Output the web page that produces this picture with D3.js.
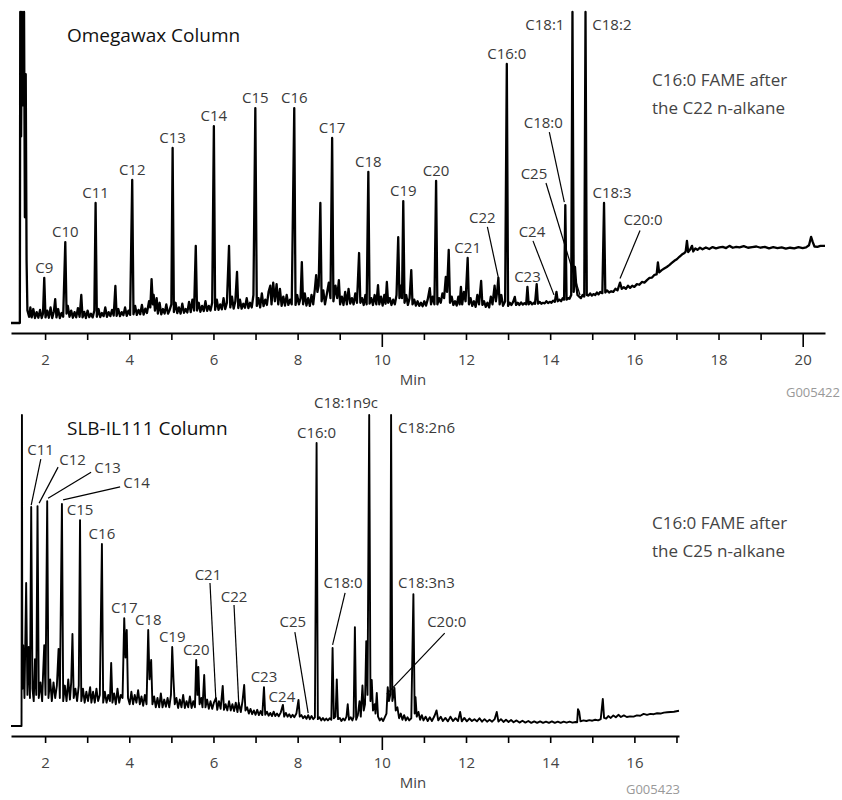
<!DOCTYPE html>
<meta charset="utf-8">
<head>
  <script src="https://d3js.org/d3.v7.min.js"></script>
  <style>
    body { margin: 0; background: #fff; font-family: 'Open Sans', sans-serif; }
  </style>
</head>
<div id="my_dataviz"></div>

<script>
  // ---- data: retention time (min), detector signal (% of full scale) ----
  var omegawaxTrace = [
    [1.19,0],[1.39,0],[1.40,0],[1.41,100],[1.43,60],[1.45,100],[1.48,70],[1.50,100],[1.52,34],[1.54,80],[1.56,20],[1.58,4],
    [1.62,2],[1.65,5],[1.68,1.8],[1.72,4.5],[1.76,1.6],[1.80,3.5],[1.84,1.7],[1.88,4.2],[1.92,1.6],[1.95,3],[1.98,14.5],[2.01,1.8],
    [2.05,4],[2.09,1.7],[2.13,5],[2.17,1.6],[2.21,3.8],[2.24,7.7],[2.27,1.8],[2.31,4.5],[2.35,1.6],[2.39,3.2],[2.43,2],[2.48,26],
    [2.51,3],[2.54,5.5],[2.58,2],[2.62,4],[2.66,1.7],[2.70,3.5],[2.74,1.8],[2.78,4.8],[2.82,2],[2.86,9],[2.89,1.8],[2.93,3.6],
    [2.97,1.6],[3.01,4],[3.05,1.9],[3.09,3],[3.13,1.8],[3.17,4],[3.20,38.6],[3.23,2],[3.27,4.5],[3.31,1.9],[3.35,3.2],[3.39,2.2],
    [3.43,5],[3.47,2],[3.51,3.5],[3.55,2.2],[3.59,4.2],[3.63,2.4],[3.67,11.9],[3.70,2.3],[3.74,4.5],[3.78,2.2],[3.82,3.5],[3.86,2.5],
    [3.90,5],[3.94,2.3],[3.98,4],[4.02,2.6],[4.07,46],[4.10,2.8],[4.14,5.5],[4.18,2.6],[4.22,4.2],[4.26,2.8],[4.30,5.8],[4.34,2.7],
    [4.38,4.6],[4.42,3.2],[4.47,7],[4.50,5],[4.53,14.1],[4.56,6],[4.58,9],[4.61,4],[4.65,8],[4.68,3],[4.72,6.5],[4.76,2.8],
    [4.80,4.5],[4.84,3],[4.88,6],[4.92,3],[4.96,4.2],[5.00,6],[5.03,56.3],[5.06,3.5],[5.10,6.5],[5.14,3.2],[5.18,5],[5.22,3],
    [5.26,6.2],[5.30,3.3],[5.34,4.5],[5.38,3.4],[5.42,6.8],[5.46,3.5],[5.50,7.5],[5.54,4],[5.58,24.8],[5.61,4],[5.65,6.5],[5.69,3.6],
    [5.73,5.5],[5.77,3.8],[5.81,7],[5.85,3.9],[5.89,5.5],[5.93,4],[5.97,6.5],[6.01,63.3],[6.04,4.2],[6.08,7.5],[6.12,4.2],[6.16,6],
    [6.20,4.4],[6.24,8],[6.28,4.5],[6.32,6.5],[6.37,24.8],[6.40,5],[6.44,8.5],[6.48,4.6],[6.52,7],[6.56,16.4],[6.59,4.8],[6.63,7.5],
    [6.67,4.6],[6.71,6.2],[6.75,4.9],[6.79,8],[6.83,4.8],[6.87,6.5],[6.91,5],[6.95,9],[6.995,69.1],[7.03,5.5],[7.07,8],[7.11,5],
    [7.15,9.5],[7.19,5.4],[7.23,7.5],[7.27,5.8],[7.31,10],[7.35,12],[7.38,6],[7.42,13],[7.46,7],[7.50,12.5],[7.54,6],[7.58,11],
    [7.62,5.5],[7.66,8.5],[7.70,5.6],[7.74,9],[7.78,5.8],[7.82,7.5],[7.86,6],[7.92,69.1],[7.95,5.8],[7.99,9],[8.03,6],[8.07,8],
    [8.10,19.6],[8.13,6],[8.17,9.5],[8.21,5.6],[8.25,8],[8.29,5.5],[8.33,9],[8.37,6],[8.41,11],[8.44,15.4],[8.47,10],[8.50,12],
    [8.54,38.6],[8.57,7],[8.61,10.5],[8.65,6],[8.69,9],[8.74,13],[8.78,8],[8.82,59.5],[8.85,7],[8.90,12],[8.94,8],[8.98,13.8],
    [9.01,6],[9.05,8.5],[9.09,5.8],[9.13,10],[9.17,6],[9.21,11],[9.25,6.2],[9.29,8],[9.33,6],[9.37,9.5],[9.41,6.5],[9.46,22.5],
    [9.49,6.5],[9.53,8],[9.57,5.8],[9.61,9],[9.64,6],[9.68,48.6],[9.71,6.2],[9.75,8],[9.79,5.8],[9.83,9],[9.87,6],[9.91,12.2],
    [9.94,6],[9.98,8.5],[10.02,5.6],[10.06,9],[10.09,6.2],[10.12,13.2],[10.15,6.5],[10.19,8],[10.23,5.8],[10.27,7.5],[10.31,6],[10.35,9],
    [10.39,27.6],[10.42,8],[10.45,12],[10.48,8],[10.51,39.2],[10.54,6.5],[10.58,9],[10.62,5.8],[10.66,8],[10.70,17],[10.73,6],[10.77,7.5],
    [10.81,5.6],[10.85,7],[10.89,5.5],[10.93,6.5],[10.97,5.4],[11.01,7],[11.05,5.6],[11.09,7.5],[11.14,11.2],[11.17,6],[11.21,8.5],[11.25,6],
    [11.29,45.7],[11.32,6],[11.36,8],[11.40,6.5],[11.44,9.5],[11.48,8],[11.52,14.8],[11.55,10],[11.59,23.5],[11.62,6.5],[11.66,8.5],[11.70,5.8],
    [11.74,7],[11.78,5.6],[11.82,8.5],[11.85,6],[11.88,11.6],[11.91,6],[11.95,10],[11.99,7],[12.04,20.9],[12.07,6],[12.11,8],[12.15,5.5],
    [12.19,7],[12.23,5.2],[12.27,9],[12.31,6],[12.36,13.5],[12.39,5.8],[12.43,7],[12.47,5.2],[12.51,6.5],[12.55,5],[12.59,8.5],[12.63,6],
    [12.68,12],[12.71,7],[12.74,10],[12.77,14.5],[12.80,6],[12.84,9],[12.88,5.5],[12.93,7],[12.97,83.3],[13.00,5.5],[13.04,6.5],[13.08,5.8],
    [13.12,6.8],[13.16,8.4],[13.19,5.8],[13.23,6.5],[13.27,5.8],[13.31,6.6],[13.35,5.9],[13.39,6.4],[13.43,6],[13.46,11.6],[13.49,6],[13.53,6.8],
    [13.57,6],[13.61,6.5],[13.64,6.2],[13.68,12.5],[13.71,6.2],[13.75,6.8],[13.79,6.2],[13.83,6.5],[13.87,6.3],[13.91,7],[13.95,6.4],[13.99,6.8],
    [14.03,6.5],[14.07,7.2],[14.11,6.8],[14.15,10],[14.18,7],[14.22,7.5],[14.26,7],[14.30,8],[14.33,7.5],[14.36,37.9],[14.39,7.5],[14.43,8],
    [14.46,7.8],[14.50,9],[14.53,100],[14.56,10],[14.59,18],[14.62,12],[14.65,9],[14.69,8.5],[14.73,8],[14.77,9],[14.81,8.5],[14.84,100],
    [14.87,9],[14.91,8.8],[14.95,9.5],[14.99,8.8],[15.03,9.3],[15.07,9],[15.11,9.8],[15.15,9.2],[15.19,10],[15.24,9.6],[15.28,38.6],[15.31,9.8],
    [15.35,10.5],[15.40,9.8],[15.45,10.2],[15.50,10],[15.55,11],[15.60,10.5],[15.66,13],[15.70,11],[15.75,11.5],[15.80,11],[15.85,12],[15.90,11.3],
    [15.95,12],[16.00,11.6],[16.06,12.5],[16.12,12.3],[16.18,13.2],[16.24,13],[16.30,13.8],[16.36,14.5],[16.42,14.6],[16.48,15.5],[16.53,15.6],[16.56,19.5],
    [16.59,16.3],[16.65,17],[16.71,17.5],[16.77,18],[16.83,18.6],[16.89,19.3],[16.95,20],[17.01,20.5],[17.07,21.3],[17.13,22],[17.19,22.5],[17.22,23],
    [17.25,26.4],[17.28,22.8],[17.32,23.5],[17.37,24.8],[17.40,23],[17.45,24],[17.50,23.5],[17.56,24.2],[17.62,23.7],[17.70,24.3],[17.78,23.8],[17.86,24.4],
    [17.94,24],[18.02,24.3],[18.10,24.5],[18.18,24.1],[18.26,24.8],[18.34,24.2],[18.42,24.5],[18.50,24.3],[18.60,24.7],[18.70,24.2],[18.80,24.4],[18.90,24.6],
    [19.00,24.2],[19.10,24.5],[19.20,24],[19.30,24.4],[19.40,24.1],[19.50,24.3],[19.60,23.9],[19.70,24.2],[19.80,24],[19.90,24.4],[20.00,24.1],[20.08,24.3],
    [20.15,25],[20.20,27.7],[20.24,26],[20.28,24.6],[20.35,24.5],[20.42,24.8],[20.53,24.8]
  ];

  var ilTrace = [
    [1.19,0],[1.44,0],[1.45,100],[1.46,12],[1.48,26],[1.51,9],[1.55,46],[1.58,10],[1.61,25.4],[1.64,9],[1.67,70.4],[1.70,12],
    [1.73,8],[1.76,21.5],[1.79,10],[1.82,70.7],[1.85,9],[1.89,14],[1.93,8],[1.95,16],[1.98,26],[2.01,10],[2.05,72.3],[2.08,9],
    [2.12,15],[2.16,8],[2.20,14],[2.24,9],[2.28,13],[2.32,24.8],[2.35,9],[2.40,71.4],[2.43,8],[2.47,13],[2.51,8],[2.55,15],
    [2.59,8.5],[2.62,14],[2.65,29.6],[2.68,9],[2.72,12],[2.76,8],[2.80,13],[2.83,66.2],[2.86,8],[2.90,12],[2.94,7.5],[2.98,11],
    [3.02,8],[3.07,12.5],[3.10,7.5],[3.14,11],[3.18,7.5],[3.22,12],[3.26,8],[3.30,10],[3.35,58.5],[3.38,7.5],[3.42,11],[3.46,7.5],
    [3.50,10],[3.54,8],[3.57,20.3],[3.60,7.5],[3.64,10.5],[3.68,7],[3.72,12],[3.76,7.5],[3.80,10],[3.84,9],[3.88,34.7],[3.91,22],
    [3.94,30.9],[3.97,9],[4.01,7],[4.05,11],[4.09,7],[4.13,10],[4.17,7.5],[4.21,11.5],[4.25,7],[4.29,9.5],[4.33,6.5],[4.37,10],
    [4.41,7],[4.45,30.9],[4.48,15],[4.52,21.2],[4.55,7],[4.59,9.5],[4.63,6],[4.67,9],[4.71,6],[4.75,10.5],[4.79,6],[4.83,8.5],
    [4.87,6.2],[4.91,9],[4.95,6],[4.99,10],[5.02,25.4],[5.05,15],[5.08,7],[5.12,9],[5.16,5.8],[5.20,8.5],[5.24,6],[5.28,10],
    [5.32,5.8],[5.36,8],[5.40,6],[5.44,9.5],[5.48,5.8],[5.52,8],[5.56,6],[5.59,21.2],[5.62,10],[5.64,19],[5.67,7],[5.71,9],
    [5.74,6],[5.78,16.4],[5.81,6],[5.85,8.5],[5.89,5.5],[5.93,8],[5.97,5.5],[6.01,7.5],[6.06,9],[6.09,5.2],[6.13,8],[6.17,5.5],
    [6.22,12.9],[6.25,5.2],[6.29,7],[6.33,5],[6.37,8],[6.41,5],[6.45,7],[6.49,4.8],[6.53,7.5],[6.57,4.5],[6.60,7.5],[6.65,4.5],
    [6.69,8],[6.73,13.2],[6.76,5],[6.80,6],[6.84,4],[6.88,5.5],[6.92,3.8],[6.96,5],[7.00,3.6],[7.04,5.2],[7.08,3.5],[7.12,4.8],
    [7.16,3.5],[7.20,12.5],[7.23,3.6],[7.27,4.6],[7.31,3.3],[7.35,4.2],[7.39,3.2],[7.43,4.6],[7.47,3.2],[7.51,4],[7.55,3.1],[7.60,4.4],
    [7.65,6.8],[7.68,3],[7.72,4.2],[7.76,3],[7.80,3.8],[7.84,2.8],[7.88,3.6],[7.92,2.8],[7.97,4],[8.02,8.4],[8.05,3],[8.09,3.5],
    [8.13,2.5],[8.17,3.2],[8.21,2.3],[8.25,3.5],[8.29,2.2],[8.33,3.2],[8.37,2.2],[8.41,2.8],[8.45,91],[8.48,2.2],[8.52,2.8],[8.56,1.8],
    [8.60,2.6],[8.64,1.8],[8.68,2.4],[8.72,1.8],[8.76,2.5],[8.80,2],[8.83,25.1],[8.86,2.5],[8.90,3],[8.93,15],[8.96,2.2],[9.00,2.6],
    [9.04,1.6],[9.08,2.4],[9.12,1.8],[9.16,3],[9.19,7],[9.22,2],[9.26,2.8],[9.30,1.8],[9.33,3],[9.36,31.8],[9.39,2],[9.43,3.5],
    [9.47,8],[9.50,3],[9.54,13],[9.57,5],[9.60,7],[9.63,27.3],[9.66,10],[9.70,100],[9.73,8],[9.76,14.8],[9.79,5],[9.83,7],
    [9.85,4],[9.88,10.6],[9.91,3],[9.95,1.8],[9.99,2.5],[10.03,1.6],[10.07,2.8],[10.11,4],[10.14,12.5],[10.17,8],[10.20,10],[10.22,100],
    [10.25,8],[10.28,10],[10.30,12.2],[10.33,5],[10.37,6],[10.41,2.5],[10.45,4],[10.49,2],[10.53,3.5],[10.57,1.8],[10.61,2.8],[10.65,1.8],
    [10.70,2.5],[10.75,42.4],[10.78,4],[10.80,9.3],[10.83,3],[10.87,4.5],[10.91,2],[10.95,3.5],[10.99,1.8],[11.04,3],[11.09,1.6],[11.14,2.8],
    [11.19,1.6],[11.25,3.2],[11.30,5],[11.34,1.8],[11.40,3],[11.45,1.6],[11.51,2.6],[11.57,1.5],[11.63,3],[11.69,1.6],[11.75,2.5],[11.81,1.6],
    [11.86,4.5],[11.90,1.5],[11.96,2.6],[12.02,1.5],[12.08,2.4],[12.14,1.6],[12.20,2.2],[12.26,1.5],[12.32,2.5],[12.38,1.4],[12.44,2.2],[12.50,1.4],
    [12.56,2],[12.62,1.4],[12.68,2.2],[12.73,4.5],[12.77,1.4],[12.83,2.2],[12.89,1.3],[12.95,2],[13.01,1.3],[13.07,1.9],[13.13,1.2],[13.20,1.8],
    [13.27,1.1],[13.34,1.7],[13.41,1.1],[13.48,1.6],[13.55,1],[13.62,1.5],[13.69,1],[13.76,1.5],[13.83,1],[13.90,1.4],[13.97,1],[14.04,1.5],
    [14.11,1],[14.18,1.4],[14.25,1],[14.32,1.4],[14.39,1.1],[14.46,1.4],[14.53,1.1],[14.60,1.3],[14.64,1.2],[14.66,5.4],[14.69,4.5],[14.72,1.5],
    [14.79,1.8],[14.86,1.6],[14.93,1.9],[15.00,1.7],[15.07,2],[15.14,1.8],[15.20,2.2],[15.25,8.7],[15.28,2.6],[15.33,2.4],[15.38,3.2],[15.44,2.6],
    [15.50,3.4],[15.56,2.8],[15.62,3.6],[15.68,2.9],[15.75,3.4],[15.82,2.9],[15.90,3.1],[15.98,3],[16.06,3.4],[16.14,3.3],[16.22,3.9],[16.30,3.6],
    [16.38,3.9],[16.46,3.8],[16.54,4.1],[16.62,4],[16.70,4.3],[16.78,4.4],[16.86,4.5],[16.94,4.6],[17.06,4.9]
  ];

  // peak name, retention time, apex height
  var omegawaxPeaks = [
    ["C9",1.98,14.5],["C10",2.48,26],["C11",3.20,38.6],["C12",4.07,46],["C13",5.03,56.3],["C14",6.01,63.3],
    ["C15",6.995,69.1],["C16",7.92,69.1],["C17",8.82,59.5],["C18",9.68,48.6],["C19",10.51,39.2],["C20",11.29,45.7],
    ["C21",12.04,20.9],["C22",12.77,14.5],["C16:0",12.97,83.3],["C23",13.46,11.6],["C24",14.15,10],["C18:0",14.36,37.9],
    ["C25",14.59,18],["C18:1",14.53,100],["C18:2",14.84,100],["C18:3",15.28,38.6],["C20:0",15.66,13]
  ];
  var ilPeaks = [
    ["C11",1.67,70.4],["C12",1.82,70.7],["C13",2.05,72.3],["C14",2.40,71.4],["C15",2.83,66.2],["C16",3.35,58.5],
    ["C17",3.88,34.7],["C18",4.45,30.9],["C19",5.02,25.4],["C20",5.59,21.2],["C21",6.06,9],["C22",6.60,7.5],
    ["C23",7.20,12.5],["C24",7.65,6.8],["C25",8.25,3.5],["C16:0",8.45,91],["C18:0",8.83,25.1],["C18:1n9c",9.70,100],
    ["C18:2n6",10.22,100],["C18:3n3",10.75,42.4],["C20:0",10.14,12.5]
  ];

  var omegawaxTicks = d3.range(2, 21);
  var ilTicks = d3.range(2, 18);

  // label placement relative to the peak apex (px); default is centred 10px above
  var omegawaxLayout = {
    "C22":   { dx: -16, dy: -60, l: [-11, -51, 0, 0] },
    "C24":   { dx: -24.5, dy: -60, l: [-23.5, -51, -2.5, 3] },
    "C18:0": { dx: -22, dy: -82, l: [-16, -73, -1, -3] },
    "C25":   { dx: -41, dy: -93, l: [-29, -84, 5, 28] },
    "C18:1": { dx: -27.6, dy: 13 },
    "C18:2": { dx: 26.4, dy: 13 },
    "C18:3": { dx: 8, dy: -10 },
    "C20:0": { dx: 23, dy: -62.6, l: [20, -52, 0, -4] }
  };
  var ilLayout = {
    "C11": { dx: 9.4, dy: -57, l: [9.6, -48, 0, -2] },
    "C12": { dx: 35, dy: -46, l: [20.6, -39, 1.6, -3] },
    "C13": { dx: 60.4, dy: -33, l: [43.9, -29, 0.9, -3] },
    "C14": { dx: 74.7, dy: -21, l: [58.2, -17, 1.2, -4] },
    "C21": { dx: -8, dy: -123, l: [-6, -115, 0, 4] },
    "C22": { dx: -4.7, dy: -105.7, l: [-4.7, -97.7, 0, 0] },
    "C24": { dx: -1, dy: -8 },
    "C25": { dx: -15.3, dy: -93, l: [-13.3, -83, 0, -2] },
    "C18:0": { dx: 10.5, dy: -65, l: [12.5, -55, 0, -3] },
    "C18:1n9c": { dx: -23.2, dy: -12 },
    "C18:2n6": { dx: 7, dy: 13, anchor: "start" },
    "C18:3n3": { dx: -15.4, dy: -11, anchor: "start" },
    "C20:0": { dx: 59, dy: -65, l: [57, -54, -1, 7] }
  };

  var font = "'Open Sans', sans-serif";

  var svg = d3.select("#my_dataviz")
    .append("svg")
    .attr("width", 842)
    .attr("height", 800);

  function drawPanel(p) {
    var g = svg.append("g");

    var x = d3.scaleLinear().domain(p.xDomain).range([11, p.xRight]);
    var y = d3.scaleLinear().domain([0, 100]).range(p.yRange);

    // x axis
    var ax = g.append("g")
      .attr("transform", "translate(0," + p.axisY + ")")
      .call(d3.axisBottom(x)
        .tickValues(p.ticks)
        .tickSize(7)
        .tickSizeOuter(0)
        .tickFormat(function (d) { return d % 2 === 0 ? d : ""; }));
    ax.attr("font-family", font);
    ax.select(".domain").attr("stroke", "#000").attr("stroke-width", 2);
    ax.selectAll(".tick line")
      .attr("stroke", "#000")
      .attr("stroke-width", 1.6)
      .attr("y2", function (d) { return d % 10 === 0 ? 14 : 7; });
    ax.selectAll(".tick text")
      .attr("y", 27)
      .attr("dy", "0.35em")
      .attr("fill", "#444")
      .style("font-size", "15px");

    g.append("text")
      .attr("x", 413).attr("y", p.axisY + 47).attr("dy", "0.35em")
      .attr("text-anchor", "middle")
      .attr("font-family", font).style("font-size", "15px").attr("fill", "#444")
      .text("Min");

    // trace
    g.append("path")
      .datum(p.trace)
      .attr("fill", "none")
      .attr("stroke", "#000")
      .attr("stroke-width", p.lw)
      .attr("stroke-linejoin", "round")
      .attr("d", d3.line()
        .x(function (d) { return x(d[0]); })
        .y(function (d) { return y(d[1]); }));

    // peak labels
    p.peaks.forEach(function (pk) {
      var lay = p.layout[pk[0]] || {};
      var px = x(pk[1]), py = y(pk[2]);
      var dx = lay.dx || 0;
      var dy = lay.dy === undefined ? -10 : lay.dy;
      g.append("text")
        .attr("x", px + dx).attr("y", py + dy).attr("dy", "0.35em")
        .attr("text-anchor", lay.anchor || "middle")
        .attr("font-family", font).style("font-size", "15px").attr("fill", "#3a3a3a")
        .text(pk[0]);
      if (lay.l) {
        g.append("line")
          .attr("x1", px + lay.l[0]).attr("y1", py + lay.l[1])
          .attr("x2", px + lay.l[2]).attr("y2", py + lay.l[3])
          .attr("stroke", "#000").attr("stroke-width", 1.2);
      }
    });

    // titles and notes
    g.append("text")
      .attr("x", 67).attr("y", p.titleY).attr("dy", "0.35em")
      .attr("font-family", font).style("font-size", "19px").attr("fill", "#111")
      .text(p.title);
    p.note.forEach(function (line, i) {
      g.append("text")
        .attr("x", 652).attr("y", p.noteY + i * 28).attr("dy", "0.35em")
        .attr("font-family", font).style("font-size", "17px").attr("fill", "#444")
        .text(line);
    });
    g.append("text")
      .attr("x", p.codeX).attr("y", p.codeY).attr("dy", "0.35em")
      .attr("text-anchor", p.codeAnchor)
      .attr("font-family", font).style("font-size", "13px").attr("fill", "#999")
      .text(p.code);
  }

  drawPanel({
    trace: omegawaxTrace, peaks: omegawaxPeaks, layout: omegawaxLayout, ticks: omegawaxTicks,
    xDomain: [1.19, 20.53], xRight: 825, yRange: [323, 12], axisY: 333, lw: 2.3,
    title: "Omegawax Column", titleY: 35,
    note: ["C16:0 FAME after", "the C22 n-alkane"], noteY: 80,
    code: "G005422", codeX: 840, codeY: 392, codeAnchor: "end"
  });

  drawPanel({
    trace: ilTrace, peaks: ilPeaks, layout: ilLayout, ticks: ilTicks,
    xDomain: [1.19, 17.06], xRight: 679, yRange: [726, 415], axisY: 736, lw: 1.9,
    title: "SLB-IL111 Column", titleY: 428,
    note: ["C16:0 FAME after", "the C25 n-alkane"], noteY: 523,
    code: "G005423", codeX: 653, codeY: 789, codeAnchor: "middle"
  });
</script>
